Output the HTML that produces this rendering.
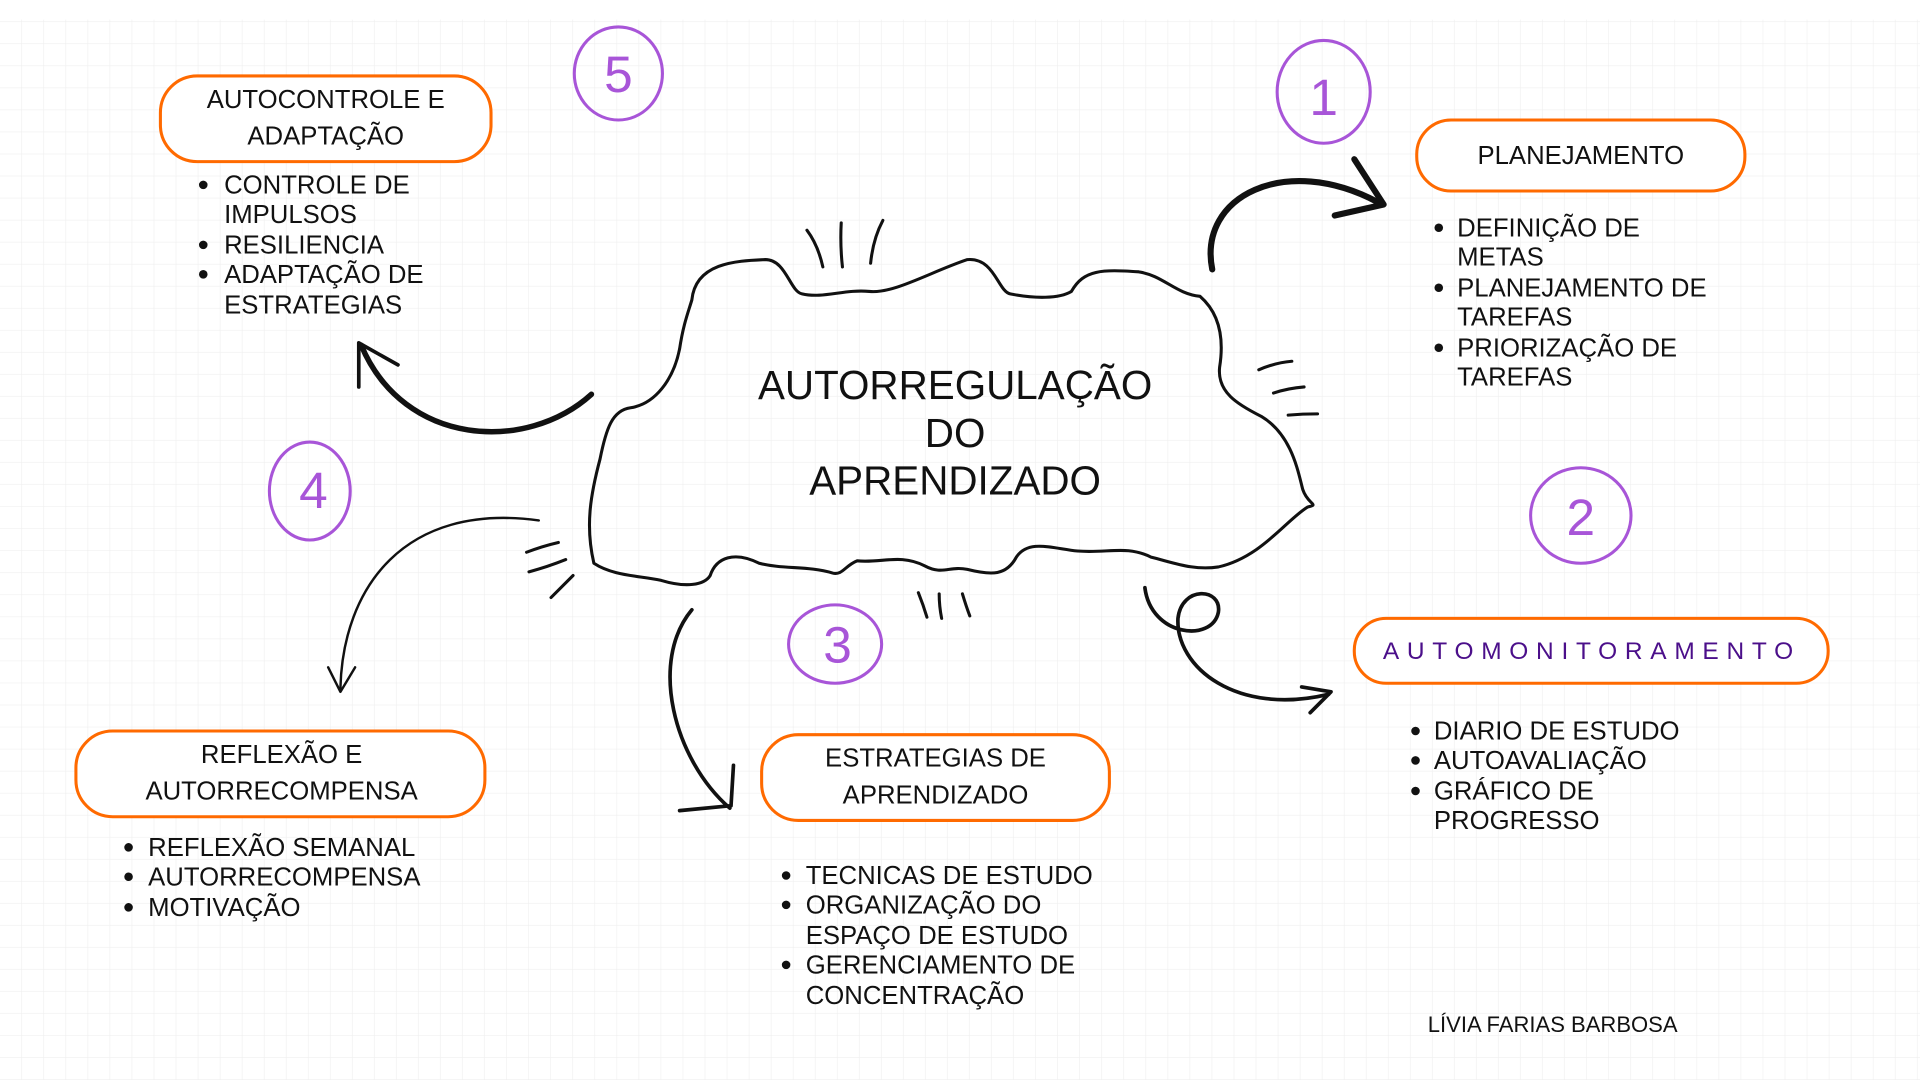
<!DOCTYPE html>
<html><head><meta charset="utf-8"><style>
html,body{margin:0;padding:0;background:#fff;width:1920px;height:1080px;overflow:hidden}
svg{display:block}
text{font-family:"Liberation Sans",sans-serif;fill:#111}
</style></head><body>
<svg width="1920" height="1080" viewBox="0 0 1568 882" xmlns="http://www.w3.org/2000/svg">
<defs>
<pattern id="g" x="0" y="0" width="18" height="18" patternUnits="userSpaceOnUse">
<path d="M18 0V18M0 18H18" stroke="#efefef" stroke-width="1" fill="none"/>
</pattern>
</defs>
<rect x="0" y="0" width="1568" height="882" fill="#fff"/>
<rect x="0" y="16" width="1568" height="866" fill="url(#g)"/>

<!-- cloud -->
<path d="M565,245 C568,215 600,213 625,212 C642,212 645,238 655,240 C672,244 690,236 710,238 C730,240 760,222 790,212 C812,210 815,238 825,240 C845,244 865,244 875,238 C885,220 900,220 930,222 C950,225 960,240 980,242 C995,255 1000,275 996,300 C994,320 1010,330 1030,340 C1055,355 1060,385 1064,400 C1068,412 1078,412 1068,414 C1050,425 1030,455 995,463 C975,466 960,460 940,455 C920,445 905,452 880,450 C860,448 840,440 830,455 C822,470 810,470 790,465 C775,462 770,470 755,462 C735,452 720,460 700,458 C690,462 688,470 680,468 C660,462 640,465 620,460 C600,450 585,455 580,470 C575,478 560,480 540,474 C520,470 500,470 485,460 C478,430 482,405 490,375 C495,350 500,335 515,333 C535,330 550,310 555,285 C558,265 562,255 565,245 Z" fill="none" stroke="#111" stroke-width="2.5" stroke-linejoin="round"/>

<text x="780" y="326" font-size="33" text-anchor="middle">AUTORREGULAÇÃO</text>
<text x="780" y="365" font-size="33" text-anchor="middle">DO</text>
<text x="780" y="404" font-size="33" text-anchor="middle">APRENDIZADO</text>

<!-- tick marks -->
<g stroke="#111" stroke-width="2.5" stroke-linecap="round" fill="none">
<path d="M659,188 Q668,200 672,218"/><path d="M687,182 Q686,200 688,218"/><path d="M721,180 Q713,195 711,215"/>
<path d="M1028,302 Q1042,296 1055,295"/><path d="M1040,321 Q1052,317 1065,316"/><path d="M1052,339 Q1064,338 1076,338"/>
<path d="M430,451 Q443,446 456,443"/><path d="M432,467 Q447,463 462,457"/><path d="M450,488 Q460,478 468,470"/>
<path d="M750,484 Q754,494 757,504"/><path d="M767,485 Q767,495 769,505"/><path d="M786,485 Q789,495 792,503"/>
</g>

<!-- arrows -->
<g stroke="#111" fill="none" stroke-linecap="round" stroke-linejoin="round">
<path d="M990,220 C978,160 1050,125 1125,165" stroke-width="5"/>
<path d="M1106,130 L1130,167 L1090,176" stroke-width="5"/>
<path d="M483,322 C430,370 330,365 295,282" stroke-width="4.5"/>
<path d="M293,316 L293,280 L325,298" stroke-width="3"/>
<path d="M440,425 C330,410 280,480 278,562" stroke-width="2"/>
<path d="M268,545 L278,565 L290,545" stroke-width="2"/>
<path d="M565,498 C530,540 550,620 596,660" stroke-width="3"/>
<path d="M599,625 L597,658 L555,662" stroke-width="3"/>
<path d="M935,480 C940,520 990,525 995,500 C998,480 965,478 962,505 C960,545 1010,585 1085,567" stroke-width="3"/>
<path d="M1063,561 L1087,565 L1070,582" stroke-width="3"/>
</g>

<!-- numbered circles -->
<g stroke="#a855d8" stroke-width="2.5" fill="none">
<ellipse cx="505" cy="60" rx="36" ry="38"/>
<ellipse cx="1081" cy="75" rx="38" ry="42"/>
<ellipse cx="1291" cy="421" rx="41" ry="39"/>
<ellipse cx="682" cy="526" rx="38" ry="32"/>
<ellipse cx="253" cy="401" rx="33" ry="40"/>
</g>
<g font-size="42" text-anchor="middle" style="fill:#a855d8">
<text x="505" y="75" style="fill:#a855d8">5</text>
<text x="1081" y="94" style="fill:#a855d8">1</text>
<text x="1291" y="437" style="fill:#a855d8">2</text>
<text x="684" y="541" style="fill:#a855d8">3</text>
<text x="256" y="415" style="fill:#a855d8">4</text>
</g>

<!-- boxes -->
<g fill="#fff" stroke="#ff6a00" stroke-width="2.5">
<rect x="131" y="62" width="270" height="70" rx="30"/>
<rect x="1157" y="98" width="268" height="58" rx="28"/>
<rect x="1106" y="505" width="387" height="53" rx="26"/>
<rect x="622" y="600" width="284" height="70" rx="30"/>
<rect x="62" y="597" width="334" height="70" rx="30"/>
</g>
<g font-size="21" text-anchor="middle">
<text x="266" y="88">AUTOCONTROLE E</text>
<text x="266" y="118">ADAPTAÇÃO</text>
<text x="1291" y="134">PLANEJAMENTO</text>
<text x="764" y="626">ESTRATEGIAS DE</text>
<text x="764" y="656">APRENDIZADO</text>
<text x="230" y="623">REFLEXÃO E</text>
<text x="230" y="653">AUTORRECOMPENSA</text>
</g>
<text x="1300" y="538" font-size="20" text-anchor="middle" letter-spacing="6.3" style="fill:#4b0f8a">AUTOMONITORAMENTO</text>

<!-- lists -->
<g font-size="21">
<text x="183" y="158">CONTROLE DE</text><text x="183" y="182">IMPULSOS</text>
<text x="183" y="207">RESILIENCIA</text><text x="183" y="231">ADAPTAÇÃO DE</text><text x="183" y="256">ESTRATEGIAS</text>

<text x="1190" y="193">DEFINIÇÃO DE</text><text x="1190" y="217">METAS</text>
<text x="1190" y="242">PLANEJAMENTO DE</text><text x="1190" y="266">TAREFAS</text>
<text x="1190" y="291">PRIORIZAÇÃO DE</text><text x="1190" y="315">TAREFAS</text>

<text x="1171" y="604">DIARIO DE ESTUDO</text><text x="1171" y="628">AUTOAVALIAÇÃO</text>
<text x="1171" y="653">GRÁFICO DE</text><text x="1171" y="677">PROGRESSO</text>

<text x="658" y="722">TECNICAS DE ESTUDO</text><text x="658" y="746">ORGANIZAÇÃO DO</text>
<text x="658" y="771">ESPAÇO DE ESTUDO</text><text x="658" y="795">GERENCIAMENTO DE</text>
<text x="658" y="820">CONCENTRAÇÃO</text>

<text x="121" y="699">REFLEXÃO SEMANAL</text><text x="121" y="723">AUTORRECOMPENSA</text>
<text x="121" y="748">MOTIVAÇÃO</text>
</g>
<g fill="#111">
<circle cx="166" cy="151" r="3.5"/><circle cx="166" cy="200" r="3.5"/><circle cx="166" cy="224" r="3.5"/>
<circle cx="1175" cy="186" r="3.5"/><circle cx="1175" cy="235" r="3.5"/><circle cx="1175" cy="284" r="3.5"/>
<circle cx="1156" cy="597" r="3.5"/><circle cx="1156" cy="621" r="3.5"/><circle cx="1156" cy="646" r="3.5"/>
<circle cx="642" cy="715" r="3.5"/><circle cx="642" cy="739" r="3.5"/><circle cx="642" cy="788" r="3.5"/>
<circle cx="105" cy="692" r="3.5"/><circle cx="105" cy="716" r="3.5"/><circle cx="105" cy="741" r="3.5"/>
</g>

<text x="1166" y="843" font-size="18">LÍVIA FARIAS BARBOSA</text>
</svg>
</body></html>
